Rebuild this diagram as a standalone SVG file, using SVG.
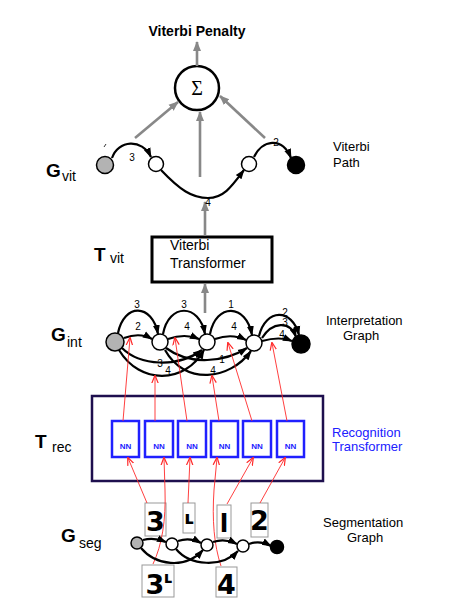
<svg xmlns="http://www.w3.org/2000/svg" width="450" height="615" viewBox="0 0 450 615">
<style>
.lbl{font-family:"Liberation Sans",Arial,sans-serif;font-size:13px;fill:#000}
.big{font-family:"Liberation Sans",Arial,sans-serif;font-weight:bold;font-size:19px;fill:#000}
.sub{font-family:"Liberation Sans",Arial,sans-serif;font-size:14px;fill:#000}
.num{font-family:"Liberation Sans",Arial,sans-serif;font-size:10px;fill:#000;text-anchor:middle}
.e{fill:none;stroke:#000;stroke-width:2.2;marker-end:url(#ah)}
.g{fill:none;stroke:#888;stroke-width:2.6;marker-end:url(#gh)}
.r{fill:none;stroke:#ff2a2a;stroke-width:0.9;marker-end:url(#rh)}
.wn{fill:#fff;stroke:#000;stroke-width:1.5}
.gn{fill:#b3b3b3;stroke:#000;stroke-width:1.5}
.bn{fill:#000;stroke:#000;stroke-width:1.5}
.nn{fill:#fff;stroke:#2020ff;stroke-width:2.5}
.nnt{font-family:"Liberation Sans",Arial,sans-serif;font-weight:bold;font-size:8px;fill:#2020ff;text-anchor:middle}
.img{fill:#fff;stroke:#999;stroke-width:1}
.hw{font-family:"DejaVu Sans",sans-serif;font-weight:bold;font-size:27px;fill:#000;text-anchor:middle}
</style>
<defs>
<marker id="ah" markerUnits="userSpaceOnUse" markerWidth="10" markerHeight="10" viewBox="0 0 10 10" refX="9" refY="5" orient="auto"><path d="M0,1.5 L10,5 L0,8.5 z" fill="#000"/></marker>
<marker id="gh" markerUnits="userSpaceOnUse" markerWidth="10" markerHeight="12" viewBox="0 0 10 10" refX="9" refY="5" orient="auto"><path d="M0,1 L10,5 L0,9 z" fill="#888"/></marker>
<marker id="rh" markerUnits="userSpaceOnUse" markerWidth="8" markerHeight="8" viewBox="0 0 10 10" refX="9" refY="5" orient="auto"><path d="M0,1 L10,5 L0,9" fill="none" stroke="#ff2a2a" stroke-width="1.5"/></marker>
</defs>

<g id="penalty"><text x="197" y="36" text-anchor="middle" style="font-family:'Liberation Sans',Arial,sans-serif;font-weight:bold;font-size:14px">Viterbi Penalty</text></g>
<g id="sum"><circle cx="197" cy="88" r="22" fill="#fff" stroke="#000" stroke-width="2.5"/><text x="197" y="95" text-anchor="middle" style="font-family:'Liberation Serif',serif;font-size:20px">Σ</text></g>

<g id="gvit-label"><text x="46" y="177" class="big">G</text><text x="62" y="181" class="sub">vit</text></g>
<g id="vit-path-label"><text x="333" y="151" class="lbl">Viterbi</text><text x="333" y="167" class="lbl">Path</text></g>

<g id="vit-nodes">
<circle cx="105" cy="165" r="8.5" class="gn"/>
<circle cx="156" cy="164" r="7.5" class="wn"/>
<circle cx="249" cy="164" r="7.5" class="wn"/>
<circle cx="296" cy="165" r="8.5" class="bn"/>
</g>

<g id="tvit-label"><text x="94" y="261" class="big">T</text><text x="110" y="263" class="sub">vit</text></g>
<g id="tvit"><rect x="152" y="237" width="120" height="45" fill="#fff" stroke="#000" stroke-width="3"/><text x="170" y="250" style="font-family:'Liberation Sans',Arial,sans-serif;font-size:14px">Viterbi</text><text x="170" y="268" style="font-family:'Liberation Sans',Arial,sans-serif;font-size:14px">Transformer</text></g>

<g id="gint-label"><text x="51" y="341" class="big">G</text><text x="67" y="347" class="sub">int</text></g>
<g id="int-label"><text x="326" y="325" class="lbl">Interpretation</text><text x="343" y="340" class="lbl">Graph</text></g>

<g id="int-nodes">
<circle cx="115" cy="342" r="9" class="gn"/>
<circle cx="160" cy="342" r="8" class="wn"/>
<circle cx="207" cy="342" r="8" class="wn"/>
<circle cx="254" cy="343" r="8" class="wn"/>
<circle cx="301" cy="344" r="9" class="bn"/>
</g>

<g id="trec-label"><text x="35" y="448" class="big">T</text><text x="52" y="452" class="sub">rec</text></g>
<g id="trec"><rect x="92" y="396" width="231" height="85" fill="none" stroke="#1e0f4e" stroke-width="2.5"/></g>
<g id="rec-label"><text x="332" y="437" class="lbl" style="fill:#2020ff">Recognition</text><text x="332" y="451" class="lbl" style="fill:#2020ff">Transformer</text></g>
<g id="nn1"><rect x="112" y="421" width="27" height="36" class="nn"/><text x="125.5" y="449" class="nnt">NN</text></g>
<g id="nn2"><rect x="145" y="421" width="28" height="36" class="nn"/><text x="159" y="449" class="nnt">NN</text></g>
<g id="nn3"><rect x="178" y="421" width="28" height="36" class="nn"/><text x="192" y="449" class="nnt">NN</text></g>
<g id="nn4"><rect x="211" y="421" width="27" height="36" class="nn"/><text x="224.5" y="449" class="nnt">NN</text></g>
<g id="nn5"><rect x="243" y="421" width="28" height="36" class="nn"/><text x="257" y="449" class="nnt">NN</text></g>
<g id="nn6"><rect x="277" y="421" width="27" height="36" class="nn"/><text x="290.5" y="449" class="nnt">NN</text></g>

<g id="gseg-label"><text x="61" y="542" class="big">G</text><text x="79" y="548" class="sub">seg</text></g>
<g id="seg-label"><text x="323" y="527" class="lbl">Segmentation</text><text x="347" y="542" class="lbl">Graph</text></g>

<g id="img-3"><rect x="145" y="503" width="21" height="33" class="img"/><text x="155.5" y="531" class="hw">3</text></g>
<g id="img-l"><rect x="183" y="503" width="12" height="30" class="img"/><text x="189" y="524" class="hw" style="font-size:18px">ʟ</text></g>
<g id="img-1"><rect x="217" y="505" width="14" height="33" class="img"/><text x="224" y="532" class="hw" style="font-size:25px">l</text></g>
<g id="img-2"><rect x="251" y="503" width="17" height="34" class="img"/><text x="259.5" y="530" class="hw">2</text></g>
<g id="img-34"><rect x="142" y="565" width="32" height="32" class="img"/><text x="155" y="594" class="hw">3</text><text x="168" y="583" class="hw" style="font-size:16px">ʟ</text></g>
<g id="img-4"><rect x="216" y="567" width="21" height="30" class="img"/><text x="226.5" y="594" class="hw">4</text></g>

<g id="seg-nodes">
<circle cx="137" cy="543" r="6" class="gn"/>
<circle cx="172" cy="544" r="6" class="wn"/>
<circle cx="207" cy="545" r="6" class="wn"/>
<circle cx="243" cy="546" r="6" class="wn"/>
<circle cx="277" cy="547" r="6.5" class="bn"/>
</g>

<g id="connectors">
<path class="g" d="M197,66 L197,42"/>
<path class="g" d="M135,138 L178,102"/>
<path class="g" d="M200,177 L200,112"/>
<path class="g" d="M265,138 L220,96"/>
<path class="g" d="M205,236 L205,202"/>
<path class="g" d="M205,313 L205,284"/>
<path d="M104,147 L106,144" stroke="#000" stroke-width="0.8"/>
<path class="e" d="M112,158 C118,140 142,138 151,157"/>
<text x="132" y="161" class="num">3</text>
<path class="e" d="M161,170 C180,190 192,198 208,198 C224,198 232,186 244,170"/>
<text x="208" y="206" class="num">4</text>
<path class="e" d="M254,157 C262,140 282,136 291,158"/>
<text x="276" y="146" class="num">2</text>
<path class="e" d="M118,333 C124,303 152,303 158,334"/>
<text x="137" y="308" class="num">3</text>
<path class="e" d="M124,338 Q140,332 152,339"/>
<text x="138" y="330" class="num">2</text>
<path class="e" d="M163,334 C169,303 199,303 205,334"/>
<text x="184" y="308" class="num">3</text>
<path class="e" d="M168,339 Q185,333 199,339"/>
<text x="187" y="330" class="num">4</text>
<path class="e" d="M210,334 C216,303 246,303 252,335"/>
<text x="231" y="308" class="num">1</text>
<path class="e" d="M215,339 Q232,333 246,340"/>
<text x="234" y="330" class="num">4</text>
<path class="e" d="M259,336 C266,308 292,308 299,335"/>
<text x="285" y="316" class="num">2</text>
<path class="e" d="M262,338 C272,322 290,320 296,337"/>
<text x="285" y="326" class="num">3</text>
<path class="e" d="M262,341 Q280,336 292,341"/>
<text x="282" y="338" class="num">4</text>
<path class="e" d="M122,348 C140,366 178,368 202,350"/>
<text x="160" y="367" class="num">3</text>
<path class="e" d="M119,350 C140,385 185,384 204,350"/>
<text x="168" y="374" class="num">4</text>
<path class="e" d="M166,348 C190,366 225,362 247,348"/>
<text x="222" y="363" class="num">1</text>
<path class="e" d="M165,350 C185,386 230,380 251,351"/>
<text x="213" y="374" class="num">4</text>
<path class="r" d="M123,421 L130,338"/>
<path class="r" d="M155,421 L155,376"/>
<path class="r" d="M187,421 L175,338"/>
<path class="r" d="M219,421 L212,376"/>
<path class="r" d="M252,421 L228,343"/>
<path class="r" d="M287,421 L272,343"/>
<path class="r" d="M147,503 L128,458"/>
<path class="r" d="M153,564 C162,545 166,520 165,490 L164,458"/>
<path class="r" d="M188,503 L190,458"/>
<path class="r" d="M221,566 C214,545 212,520 214,490 L217,458"/>
<path class="r" d="M227,504 L253,458"/>
<path class="r" d="M260,503 L285,458"/>
<path class="e" d="M143,540 Q154,537 166,542"/>
<path class="e" d="M178,541 Q190,537 201,543"/>
<path class="e" d="M213,542 Q225,538 237,544"/>
<path class="e" d="M249,544 Q260,540 271,546"/>
<path class="e" d="M141,548 C155,565 185,570 203,550"/>
<path class="e" d="M176,549 C190,566 222,568 238,551"/>
</g>
</svg>
